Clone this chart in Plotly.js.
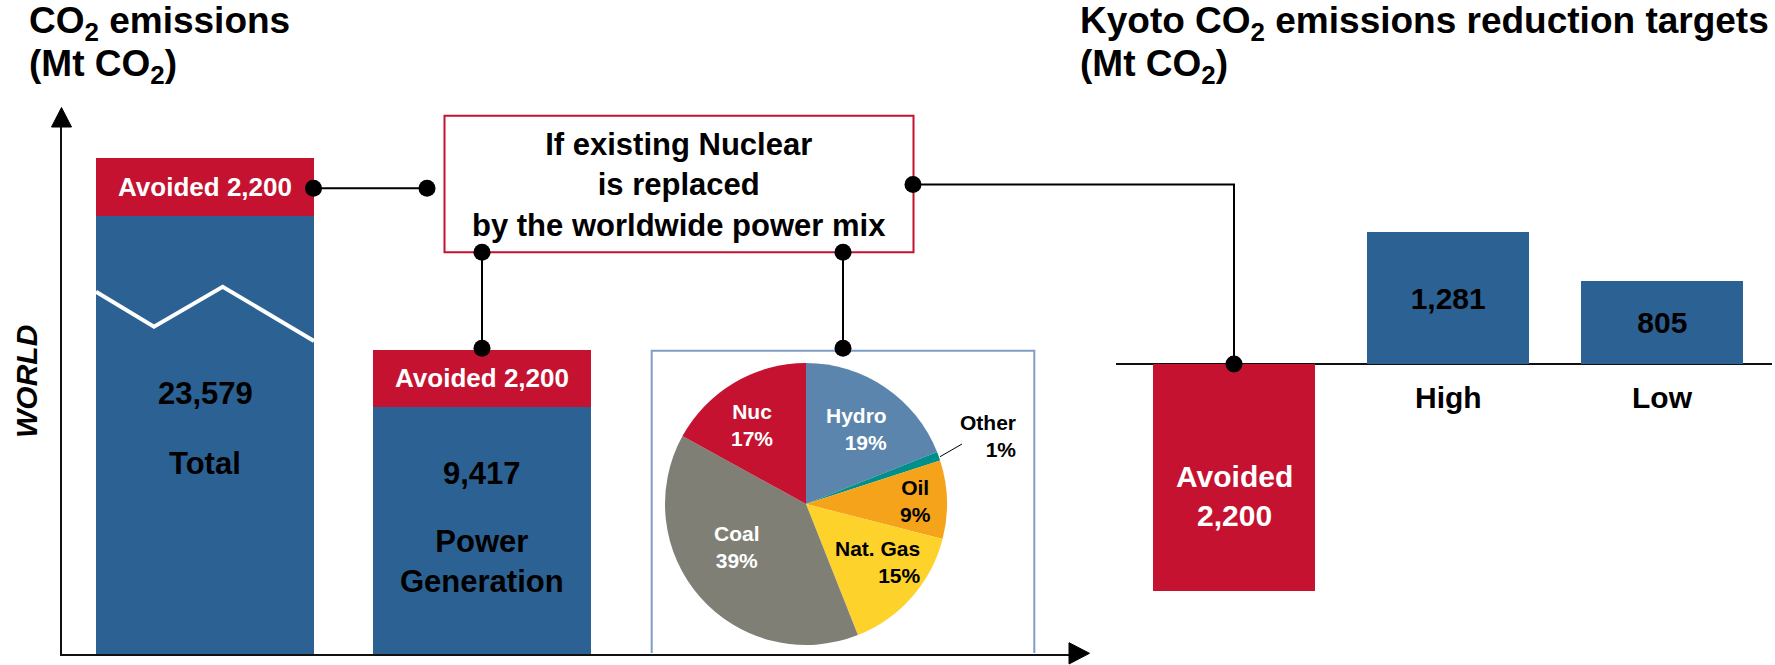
<!DOCTYPE html>
<html>
<head>
<meta charset="utf-8">
<script src="https://cdn.plot.ly/plotly-3.0.1.min.js"></script>
<style>html,body{margin:0;padding:0;background:#fff;}#chart{width:1775px;height:665px;}</style>
</head>
<body>
<div id="chart"></div>
<script>
// ---------------- data ----------------
const leftCategories = ['Total', 'Power Generation'];
const emissions = [23579, 9417];
const avoided = [2200, 2200];

const mixLabels = ['Hydro', 'Other', 'Oil', 'Nat. Gas', 'Coal', 'Nuc'];
const mixShares = [19, 1, 9, 15, 39, 17];

const kyotoCategories = ['Avoided', 'High', 'Low'];
const kyotoValues = [-2200, 1281, 805];
const kyotoTickLabels = ['', 'High', 'Low'];

// ---------------- styling ----------------
const W = 1775, H = 665;
const px = x => x / W;
const py = y => 1 - y / H;
const FONT = 'Liberation Sans, Arial, Helvetica, sans-serif';
const RED = '#C41230';
const BLUE = '#2C6193';
const mixColors = ['#5B85AC', '#00908A', '#F5A31B', '#FDD22A', '#7F7F76', '#C41230'];
const fmt = v => Math.abs(v).toLocaleString('en-US');

// left chart scale (px per Mt)
const k1 = 0.0262;
const baseY = 654, breakY = 300, topY = 127;
const totalTop = emissions[0] + avoided[0];
const totalTopPx = 158;

// right chart scale
const k2 = 0.103;
const zeroPx = 364;

const traces = [
  // lower part of the broken axis
  {type: 'bar', x: leftCategories, y: emissions, xaxis: 'x', yaxis: 'y', width: 0.787,
   marker: {color: BLUE}, hoverinfo: 'skip', showlegend: false},
  {type: 'bar', x: leftCategories, y: avoided, xaxis: 'x', yaxis: 'y', width: 0.787,
   marker: {color: RED}, hoverinfo: 'skip', showlegend: false,
   text: avoided.map((v, i) => i === 0 ? '' : 'Avoided ' + fmt(v)),
   textposition: 'inside', insidetextanchor: 'middle', constraintext: 'none',
   textfont: {family: FONT, size: 26, color: '#fff', weight: 'bold'}},
  // upper part of the broken axis (top of the Total bar)
  {type: 'bar', x: [leftCategories[0]], y: [emissions[0]], xaxis: 'x', yaxis: 'y2', width: 0.787,
   marker: {color: BLUE}, hoverinfo: 'skip', showlegend: false},
  {type: 'bar', x: [leftCategories[0]], y: [avoided[0]], xaxis: 'x', yaxis: 'y2', width: 0.787,
   marker: {color: RED}, hoverinfo: 'skip', showlegend: false,
   text: ['Avoided ' + fmt(avoided[0])],
   textposition: 'inside', insidetextanchor: 'middle', constraintext: 'none',
   textfont: {family: FONT, size: 26, color: '#fff', weight: 'bold'}},
  // power mix pie
  {type: 'pie', labels: mixLabels, values: mixShares, sort: false, direction: 'clockwise', rotation: 0,
   marker: {colors: mixColors, line: {width: 0}}, textinfo: 'none', hoverinfo: 'skip', showlegend: false,
   domain: {x: [px(665), px(947)], y: [py(645), py(363)]}},
  // Kyoto targets
  {type: 'bar', x: kyotoCategories, y: kyotoValues, xaxis: 'x3', yaxis: 'y3', width: 0.756,
   marker: {color: kyotoValues.map(v => v < 0 ? RED : BLUE)}, hoverinfo: 'skip', showlegend: false,
   text: kyotoValues.map(v => v < 0 ? ' ' : fmt(v)),
   textposition: 'inside', insidetextanchor: 'middle', constraintext: 'none',
   textfont: {family: FONT, size: 30, color: '#000', weight: 'bold'}}
];

const ann = [];
const A = (o) => ann.push(Object.assign({showarrow: false, xanchor: 'center', yanchor: 'middle',
  font: {family: FONT, size: 30, color: '#000', weight: 'bold'}}, o));
const TF = {family: FONT, size: 37, color: '#000', weight: 'bold'};

// titles
A({text: 'CO<sub>2</sub> emissions', xref: 'paper', yref: 'paper', x: px(27), y: py(23), xanchor: 'left', font: TF});
A({text: '(Mt CO<sub>2</sub>)', xref: 'paper', yref: 'paper', x: px(27), y: py(66), xanchor: 'left', font: TF});
A({text: 'Kyoto CO<sub>2</sub> emissions reduction targets', xref: 'paper', yref: 'paper', x: px(1078), y: py(23), xanchor: 'left', font: TF});
A({text: '(Mt CO<sub>2</sub>)', xref: 'paper', yref: 'paper', x: px(1078), y: py(66), xanchor: 'left', font: TF});
A({text: 'WORLD', xref: 'paper', yref: 'paper', x: px(27), y: py(382), textangle: -90,
   font: {family: FONT, size: 30, color: '#000', weight: 'bold', style: 'italic'}});

// left bar labels
const LF = {family: FONT, size: 31, color: '#000', weight: 'bold'};
A({text: fmt(emissions[0]), xref: 'x', yref: 'paper', x: leftCategories[0], y: py(393), font: LF});
A({text: 'Total', xref: 'x', yref: 'paper', x: leftCategories[0], y: py(463), font: LF});
A({text: fmt(emissions[1]), xref: 'x', yref: 'paper', x: leftCategories[1], y: py(473), font: LF});
A({text: 'Power<br>Generation', xref: 'x', yref: 'paper', x: leftCategories[1], y: py(561), font: LF});

// box text
A({text: 'If existing Nuclear<br>is replaced<br>by the worldwide power mix', xref: 'paper', yref: 'paper',
   x: px(679), y: py(185), font: LF});

// pie labels
const pieLab = [
  {i: 0, x: 889, y: 429, anchor: 'right', color: '#fff'},
  {i: 1, x: 1018, y: 436, anchor: 'right', color: '#000'},
  {i: 2, x: 916, y: 501, anchor: 'center', color: '#000'},
  {i: 3, x: 923, y: 562, anchor: 'right', color: '#000'},
  {i: 4, x: 737, y: 547, anchor: 'center', color: '#fff'},
  {i: 5, x: 752, y: 425, anchor: 'center', color: '#fff'}
];
pieLab.forEach(p => A({text: mixLabels[p.i] + '<br>' + mixShares[p.i] + '%', xref: 'paper', yref: 'paper',
  x: px(p.x), y: py(p.y), xanchor: p.anchor, align: p.anchor === 'right' ? 'right' : 'center',
  font: {family: FONT, size: 21, color: p.color, weight: 'bold'}}));

// right labels
A({text: 'Avoided<br>' + fmt(kyotoValues[0]), xref: 'x3', yref: 'paper', x: kyotoCategories[0], y: py(496),
   font: {family: FONT, size: 30, color: '#fff', weight: 'bold'}});
kyotoTickLabels.forEach((t, i) => { if (t) A({text: t, xref: 'x3', yref: 'paper', x: kyotoCategories[i], y: py(397)}); });

// shapes
const shapes = [];
const S = o => shapes.push(Object.assign({xref: 'paper', yref: 'paper'}, o));
const path = pts => 'M ' + pts.map(p => px(p[0]) + ',' + py(p[1])).join(' L ');
// statement box
S({type: 'rect', x0: px(444.5), x1: px(913.5), y0: py(252.3), y1: py(115.7), line: {color: RED, width: 2}, fillcolor: 'rgba(0,0,0,0)'});
// pie frame
S({type: 'path', path: path([[651.7, 653], [651.7, 350.7], [1034.3, 350.7], [1034.3, 653]]), line: {color: '#7F9DC6', width: 2}});
// broken-bar zigzag
S({type: 'path', path: path([[96, 291.7], [154, 326.7], [222.7, 286.7], [314, 341]]), line: {color: '#fff', width: 4}});
// connectors
const LC = {color: '#000', width: 2};
S({type: 'path', path: path([[314, 188.3], [427, 188.3]]), line: LC});
S({type: 'path', path: path([[482, 252.3], [482, 348.3]]), line: LC});
S({type: 'path', path: path([[843, 252.3], [843, 348.3]]), line: LC});
S({type: 'path', path: path([[913, 184.5], [1234, 184.5], [1234, 364]]), line: LC});
// Other leader line
S({type: 'path', path: path([[940, 456.7], [962, 444]]), line: {color: '#000', width: 1}});
// dots
[[313.5, 188.3], [427, 188.3], [482, 252.3], [482, 348.3], [843, 252.3], [843, 348.3], [913, 184.5], [1234, 364]].forEach(d => {
  const r = 8.5;
  S({type: 'circle', x0: px(d[0] - r), x1: px(d[0] + r), y0: py(d[1] + r), y1: py(d[1] - r), fillcolor: '#000', line: {width: 0}});
});
// axis arrowheads
S({type: 'path', path: path([[51.5, 127], [61.5, 107.5], [71.5, 127]]) + ' Z', fillcolor: '#000', line: {color: '#000', width: 1}});
S({type: 'path', path: path([[1069, 642.7], [1089.5, 653.3], [1069, 664]]) + ' Z', fillcolor: '#000', line: {color: '#000', width: 1}});

const hidden = {showgrid: false, zeroline: false, showticklabels: false, ticks: '', fixedrange: true};
const layout = {
  width: W, height: H, margin: {l: 0, r: 0, t: 0, b: 0}, autosize: false,
  paper_bgcolor: '#fff', plot_bgcolor: 'rgba(0,0,0,0)',
  font: {family: FONT, color: '#000'},
  barmode: 'stack', bargap: 0,
  showlegend: false,
  xaxis: Object.assign({}, hidden, {type: 'category', domain: [px(62), px(1069)],
    range: [(62 - 205) / 277, (1069 - 205) / 277], anchor: 'y', showline: true, linecolor: '#111', linewidth: 2}),
  yaxis: Object.assign({}, hidden, {domain: [py(baseY), py(breakY)], range: [0, (baseY - breakY) / k1],
    anchor: 'x', showline: true, linecolor: '#111', linewidth: 2}),
  yaxis2: Object.assign({}, hidden, {domain: [py(breakY), py(topY)],
    range: [totalTop - (breakY - totalTopPx) / k1, totalTop + (totalTopPx - topY) / k1],
    anchor: 'x', showline: true, linecolor: '#111', linewidth: 2}),
  xaxis3: Object.assign({}, hidden, {type: 'category', domain: [px(1116), px(1772)],
    range: [(1116 - 1234) / 214.2, (1772 - 1234) / 214.2], anchor: 'y3'}),
  yaxis3: Object.assign({}, hidden, {domain: [py(610), py(180)], range: [-(610 - zeroPx) / k2, (zeroPx - 180) / k2],
    anchor: 'x3', zeroline: true, zerolinecolor: '#111', zerolinewidth: 2}),
  annotations: ann,
  shapes: shapes
};

Plotly.newPlot('chart', traces, layout, {displayModeBar: false, staticPlot: true});
</script>
</body>
</html>
